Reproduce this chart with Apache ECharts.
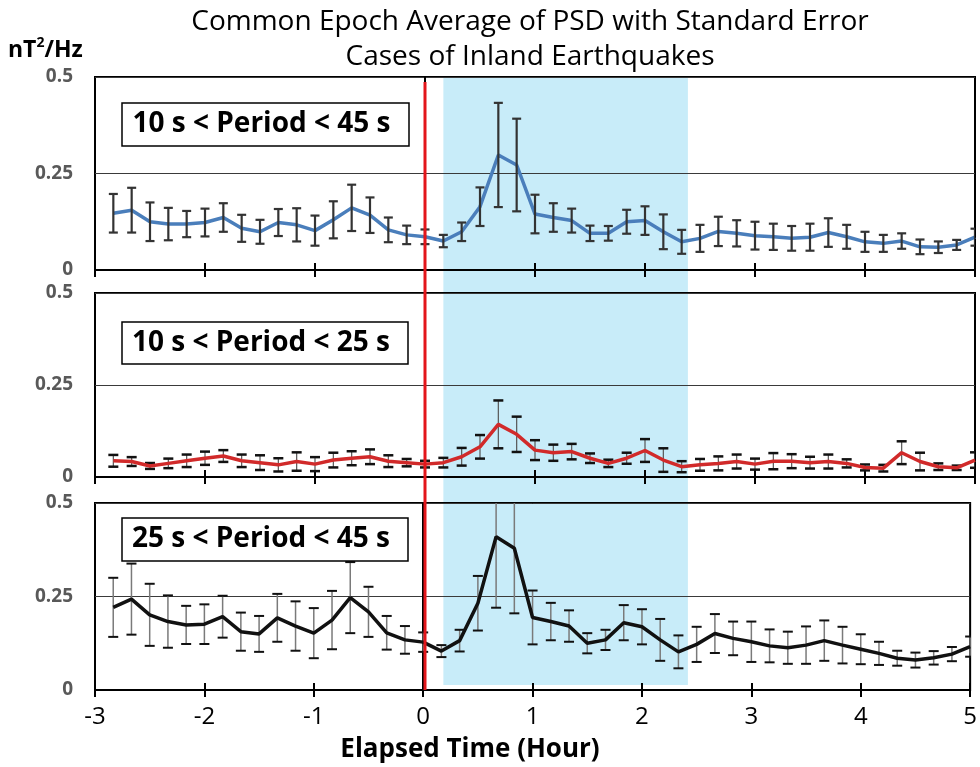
<!DOCTYPE html>
<html>
<head>
<meta charset="utf-8">
<script src="https://cdn.jsdelivr.net/npm/echarts@6/dist/echarts.min.js"></script>
<style>html,body{margin:0;padding:0;background:#fff;}#chart{width:980px;height:767px;}</style>
</head>
<body>
<div id="chart"></div>
<script>
// ---- DATA ----
const minutes = [-170,-160,-150,-140,-130,-120,-110,-100,-90,-80,-70,-60,-50,-40,-30,-20,-10,0,
  10,20,30,40,50,60,70,80,90,100,110,120,130,140,150,160,170,180,190,200,210,220,230,240,250,260,270,280,290,300];

const psd45 = [0.147,0.155,0.125,0.119,0.119,0.123,0.136,0.108,0.099,0.123,0.117,0.102,0.130,0.161,0.142,0.104,0.091,0.086,
  0.075,0.099,0.164,0.298,0.272,0.145,0.136,0.128,0.095,0.095,0.125,0.128,0.099,0.073,0.082,0.100,0.095,0.089,0.086,0.082,0.085,0.097,0.086,0.073,0.069,0.075,0.060,0.059,0.065,0.085];
const err45 = [0.050,0.058,0.050,0.042,0.034,0.036,0.037,0.035,0.031,0.035,0.043,0.039,0.048,0.060,0.046,0.032,0.024,0.019,
  0.016,0.024,0.050,0.135,0.120,0.050,0.037,0.031,0.020,0.019,0.031,0.037,0.045,0.031,0.035,0.038,0.034,0.036,0.034,0.032,0.035,0.037,0.031,0.026,0.022,0.020,0.019,0.015,0.013,0.022];

const psd25 = [0.044,0.042,0.030,0.037,0.044,0.051,0.057,0.044,0.039,0.033,0.042,0.035,0.046,0.051,0.055,0.043,0.039,0.035,
  0.039,0.055,0.082,0.143,0.116,0.073,0.066,0.069,0.051,0.037,0.051,0.072,0.046,0.028,0.033,0.037,0.042,0.035,0.043,0.043,0.039,0.042,0.037,0.026,0.024,0.066,0.042,0.028,0.025,0.046];
const err25 = [0.016,0.012,0.008,0.013,0.017,0.018,0.016,0.017,0.020,0.018,0.025,0.019,0.020,0.019,0.020,0.016,0.010,0.009,
  0.013,0.024,0.032,0.065,0.048,0.027,0.022,0.021,0.013,0.010,0.015,0.031,0.032,0.015,0.016,0.019,0.019,0.015,0.022,0.019,0.016,0.019,0.011,0.008,0.009,0.031,0.024,0.009,0.006,0.021];

const psdLong = [0.221,0.243,0.201,0.183,0.174,0.176,0.196,0.156,0.150,0.193,0.171,0.152,0.187,0.247,0.209,0.153,0.134,0.128,
  0.104,0.132,0.232,0.410,0.379,0.194,0.183,0.171,0.125,0.134,0.180,0.169,0.134,0.102,0.122,0.151,0.138,0.129,0.118,0.113,0.120,0.132,0.120,0.109,0.098,0.085,0.080,0.086,0.096,0.116];
const errLong = [0.079,0.095,0.083,0.070,0.051,0.053,0.056,0.051,0.048,0.064,0.066,0.067,0.078,0.095,0.067,0.045,0.037,0.026,
  0.016,0.029,0.073,0.190,0.174,0.072,0.050,0.042,0.027,0.027,0.047,0.047,0.056,0.044,0.047,0.052,0.045,0.054,0.044,0.043,0.050,0.054,0.049,0.040,0.031,0.020,0.020,0.018,0.019,0.027];

const panelLabels = ['10 s < Period < 45 s', '10 s < Period < 25 s', '25 s < Period < 45 s'];
const xTickLabels = ['-3','-2','-1','0','1','2','3','4','5'];
const yTickLabels = ['0','0.25','0.5'];
const eventTime = [0];
const shadeWindow = [0.167, 2.39];
const titleLines = ['Common Epoch Average of PSD with Standard Error', 'Cases of Inland Earthquakes'];
const xAxisTitle = 'Elapsed Time (Hour)';

// ---- CHART ----
const FONT = 'Open Sans';
const chart = echarts.init(document.getElementById('chart'), null, {renderer: 'canvas'});
const panels = [
  {top: 77, height: 193, vals: psd45, errs: err45, color: '#4a7ebb',
   bar: {stem: '#333333', stemW: 2.2, cap: '#333333', capW: 2.2, half: 4.5}, box: [122, 103, 287, 43]},
  {top: 293, height: 184, vals: psd25, errs: err25, color: '#d12a2a',
   bar: {stem: '#555555', stemW: 1.2, cap: '#111111', capW: 2.5, half: 5}, box: [122, 322, 286, 42]},
  {top: 503, height: 187, vals: psdLong, errs: errLong, color: '#111111',
   bar: {stem: '#7a7a7a', stemW: 1.5, cap: '#111111', capW: 2, half: 5}, box: [122, 518, 286, 43]}
];

const grids = [], xAxes = [], yAxes = [], series = [], graphics = [];
panels.forEach((p, i) => {
  grids.push({left: 95, width: 880, top: p.top, height: p.height, show: true, borderColor: '#000', borderWidth: 2});
  xAxes.push({
    type: 'value', gridIndex: i, min: -3, max: 5, interval: 1,
    axisLine: {show: true, onZero: false, lineStyle: {color: '#000', width: 2}},
    axisTick: {show: true, length: 7, lineStyle: {color: '#000', width: 2}},
    axisLabel: {show: i === 2, margin: 15, fontSize: 24, color: '#000', fontFamily: FONT,
      formatter: v => xTickLabels[Math.round(v + 3)]},
    splitLine: {show: false}
  });
  yAxes.push({
    type: 'value', gridIndex: i, min: 0, max: 0.5, interval: 0.25,
    axisLine: {show: true, lineStyle: {color: '#000', width: 2}},
    axisTick: {show: false},
    axisLabel: {margin: 22, fontSize: 19, fontWeight: 'bold', color: '#595959', fontFamily: FONT,
      formatter: v => yTickLabels[Math.round(v / 0.25)]},
    splitLine: {show: true, lineStyle: {color: '#3a3a3a', width: 1}}
  });
});
// inside ticks (ticks cross the axis line)
panels.forEach((p, i) => {
  xAxes.push({
    type: 'value', gridIndex: i, min: -3, max: 5, interval: 1, position: 'bottom',
    axisLine: {show: false}, axisLabel: {show: false}, splitLine: {show: false},
    axisTick: {show: true, inside: true, length: 7, lineStyle: {color: '#000', width: 2}}
  });
});
// overlay grids: shading (3) and event line (4)
grids.push({left: 95, width: 880, top: 77, height: 608});
grids.push({left: 95, width: 880, top: 82, height: 608});
[3, 4].forEach(g => {
  xAxes.push({type: 'value', gridIndex: g, min: -3, max: 5, show: false});
  yAxes.push({type: 'value', gridIndex: g, min: 0, max: 1, show: false});
});

series.push({
  type: 'custom', xAxisIndex: 6, yAxisIndex: 3, z: -5, silent: true,
  data: [[shadeWindow[0], shadeWindow[1]]],
  encode: {x: [0, 1]},
  renderItem: (params, api) => {
    const a = api.coord([api.value(0), 0]);
    const b = api.coord([api.value(1), 0]);
    const cs = params.coordSys;
    return {type: 'rect', shape: {x: a[0], y: cs.y, width: b[0] - a[0], height: cs.height},
      style: {fill: '#c8ecf9'}};
  }
});
series.push({
  type: 'custom', xAxisIndex: 7, yAxisIndex: 4, z: 20, silent: true,
  data: eventTime.map(t => [t]),
  encode: {x: 0},
  renderItem: (params, api) => {
    const a = api.coord([api.value(0), 0]);
    const cs = params.coordSys;
    return {type: 'line', shape: {x1: a[0], y1: cs.y, x2: a[0], y2: cs.y + cs.height},
      style: {stroke: '#e3161b', lineWidth: 3}};
  }
});

panels.forEach((p, i) => {
  const hours = minutes.map(m => m / 60);
  series.push({
    type: 'custom', xAxisIndex: i, yAxisIndex: i, z: i === 0 ? 6 : 3, clip: true, silent: true,
    data: hours.map((h, k) => [h, p.vals[k] - p.errs[k], p.vals[k] + p.errs[k]]),
    encode: {x: 0, y: [1, 2]},
    renderItem: (params, api) => {
      const x = api.value(0);
      const lo = api.coord([x, api.value(1)]);
      const hi = api.coord([x, api.value(2)]);
      const b = p.bar;
      return {type: 'group', children: [
        {type: 'line', shape: {x1: lo[0], y1: lo[1], x2: hi[0], y2: hi[1]}, style: {stroke: b.stem, lineWidth: b.stemW}},
        {type: 'line', shape: {x1: lo[0] - b.half, y1: lo[1], x2: lo[0] + b.half, y2: lo[1]}, style: {stroke: b.cap, lineWidth: b.capW}},
        {type: 'line', shape: {x1: hi[0] - b.half, y1: hi[1], x2: hi[0] + b.half, y2: hi[1]}, style: {stroke: b.cap, lineWidth: b.capW}}
      ]};
    }
  });
  series.push({
    type: 'line', xAxisIndex: i, yAxisIndex: i, z: 5, silent: true,
    data: hours.map((h, k) => [h, p.vals[k]]),
    showSymbol: false, symbol: 'none',
    lineStyle: {color: p.color, width: 3.5},
    animation: false
  });
  const [bx, by, bw, bh] = p.box;
  graphics.push({type: 'rect', z: 100, shape: {x: bx, y: by, width: bw, height: bh},
    style: {fill: '#fff', stroke: '#000', lineWidth: 1.5}});
  graphics.push({type: 'text', z: 101, x: bx + bw / 2 - 4, y: by + bh / 2,
    style: {text: panelLabels[i], font: 'bold 28px "Open Sans"', fill: '#000', textAlign: 'center', textVerticalAlign: 'middle'}});
});

graphics.push({type: 'text', z: 100, x: 530, y: 22,
  style: {text: titleLines[0], font: '28px "Open Sans"', fill: '#000', textAlign: 'center', textVerticalAlign: 'middle'}});
graphics.push({type: 'text', z: 100, x: 530, y: 57,
  style: {text: titleLines[1], font: '28px "Open Sans"', fill: '#000', textAlign: 'center', textVerticalAlign: 'middle'}});
graphics.push({type: 'text', z: 100, x: 470, y: 750,
  style: {text: xAxisTitle, font: 'bold 26px "Open Sans"', fill: '#000', textAlign: 'center', textVerticalAlign: 'middle'}});
graphics.push({type: 'text', z: 100, x: 8, y: 36,
  style: {text: '{b|nT}{s|2}{b|/Hz}', fill: '#000',
    rich: {b: {fontFamily: FONT, fontWeight: 'bold', fontSize: 23, lineHeight: 26, verticalAlign: 'bottom'},
           s: {fontFamily: FONT, fontWeight: 'bold', fontSize: 14, lineHeight: 26, verticalAlign: 'top'}}}});

chart.setOption({
  animation: false,
  backgroundColor: '#fff',
  textStyle: {fontFamily: FONT},
  grid: grids, xAxis: xAxes, yAxis: yAxes, series: series, graphic: graphics
});
</script>
</body>
</html>
